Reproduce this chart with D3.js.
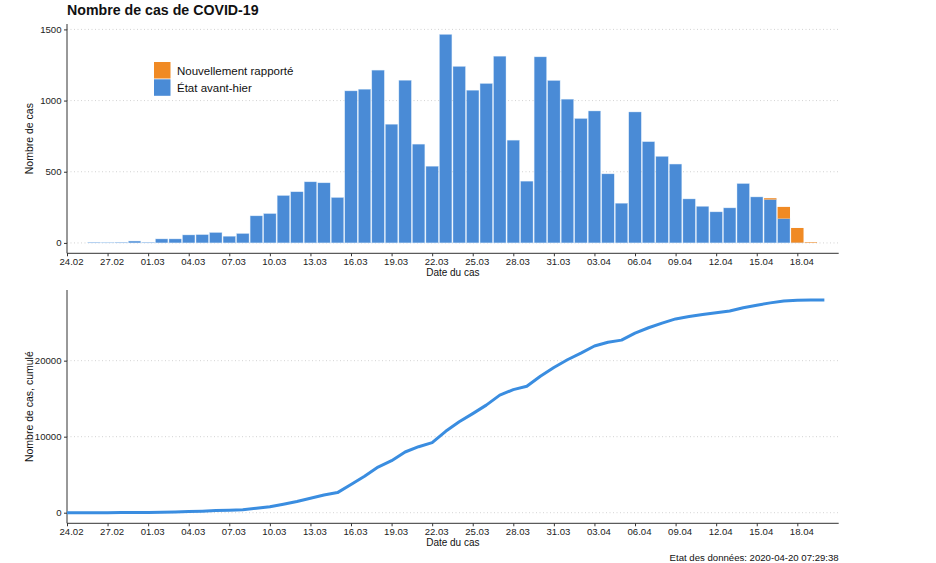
<!DOCTYPE html>
<html><head><meta charset="utf-8">
<script src="https://cdn.jsdelivr.net/npm/d3@7"></script>
<style>
body{margin:0;background:#fff;}
text{font-family:"Liberation Sans",Arial,sans-serif;}
</style></head>
<body><svg id="c" width="936" height="563"></svg>
<script>
// Bar dates (26.02 - 19.04)
const barStart = "2020-02-26";
const barEnd = "2020-04-19";
const blueVals = [5,3,5,13,5,28,28,56,58,73,47,66,190,206,333,359,429,422,319,
  1068,1080,1214,834,1143,694,539,1465,1240,1073,1120,1312,722,434,1307,1141,1010,874,927,485,279,
  920,711,608,554,309,257,218,246,417,323,305,171,2,0];
const orangeVals = [0,0,0,0,0,0,0,0,0,0,0,0,0,0,0,0,0,0,0,
  0,0,0,0,0,0,0,0,0,0,0,0,0,0,0,0,0,0,0,0,0,
  0,0,0,0,0,0,0,0,0,0,9,82,103,4];
// Cumulative (24.02 - 20.04)
const cumStart = "2020-02-24";
const cumVals = [0,0,5,8,13,26,31,59,87,143,201,274,321,387,577,783,1116,1475,1904,2326,2645,
  3713,4793,6007,6841,7984,8678,9217,10710,11955,13030,14150,15465,16190,16630,17950,19100,20120,
  21000,21930,22420,22700,23620,24330,24940,25490,25810,26070,26290,26540,26960,27290,27600,27860,27960,27965,27965];
const xTickLabels = ["24.02","27.02","01.03","04.03","07.03","10.03","13.03","16.03","19.03","22.03",
  "25.03","28.03","31.03","03.04","06.04","09.04","12.04","15.04","18.04"];
const yTicksTop = [0,500,1000,1500];
const yTicksBottom = [0,10000,20000];
const legendLabels = ["Nouvellement rapporté","État avant-hier"];

const parse = d3.utcParse("%Y-%m-%d");
const day = 864e5;
const t0 = parse(cumStart);
const barDates = d3.utcDays(parse(barStart), new Date(parse(barEnd).getTime()+day));
const cumDates = cumVals.map((v,i)=>new Date(t0.getTime()+i*day));
const tickDates = xTickLabels.map((l,i)=>new Date(t0.getTime()+i*3*day));

const BLUE="#4a8bd6", ORANGE="#f08a24", LINE="#3a8de0";
const svg = d3.select("#c");
const L=67, R=838.7;
const x = d3.scaleUtc().domain([t0, new Date(t0.getTime()+57.06*day)]).range([L,R]);
const step = x(new Date(t0.getTime()+day))-x(t0);
const bw = step*0.92;

// title
svg.append("text").attr("x",67).attr("y",15).attr("font-size",14.2).attr("font-weight","bold")
  .attr("fill","#111").text("Nombre de cas de COVID-19");

function panel(y, ticks, bottomY, topY, yTitle){
  const g = svg.append("g");
  g.selectAll(".grid").data(ticks).join("line")
    .attr("x1",L).attr("x2",R).attr("y1",d=>y(d)).attr("y2",d=>y(d))
    .attr("stroke","#c8c8c8").attr("stroke-width",0.8).attr("stroke-dasharray","1,2.5");
  const ya = d3.axisLeft(y).tickValues(ticks).tickSize(3).tickPadding(2.5).tickFormat(d3.format("d"));
  const yg = g.append("g").attr("transform",`translate(${L},0)`).call(ya);
  yg.select(".domain").remove();
  yg.selectAll("text").attr("font-size",9.6).attr("fill","#222").attr("font-family","Liberation Sans, Arial");
  yg.selectAll("line").attr("stroke","#333");
  g.append("line").attr("x1",L).attr("x2",L).attr("y1",topY).attr("y2",bottomY).attr("stroke","#333").attr("stroke-width",1);
  const xa = d3.axisBottom(x).tickValues(tickDates).tickSize(3).tickPadding(2)
    .tickFormat((d,i)=>xTickLabels[i]);
  const xg = g.append("g").attr("transform",`translate(0,${bottomY})`).call(xa);
  xg.select(".domain").remove();
  xg.selectAll("text").attr("font-size",9.6).attr("fill","#222").attr("dx",4).attr("font-family","Liberation Sans, Arial");
  xg.selectAll("line").attr("stroke","#333");
  g.append("line").attr("x1",L).attr("x2",R).attr("y1",bottomY).attr("y2",bottomY).attr("stroke","#333").attr("stroke-width",1);
  g.append("text").attr("x",(L+R)/2).attr("y",bottomY+23).attr("text-anchor","middle")
    .attr("font-size",10).attr("fill","#111").text("Date du cas");
  g.append("text").attr("transform",`translate(32.5,${(topY+bottomY)/2}) rotate(-90)`).attr("text-anchor","middle")
    .attr("font-size",10.5).attr("fill","#111").text(yTitle);
  return g;
}

// Top panel
const yT = d3.scaleLinear().domain([-73,1538]).range([253.3,24]);
const gT = panel(yT, yTicksTop, 253.3, 24, "Nombre de cas");
const bars = gT.append("g");
bars.selectAll(".b").data(barDates).join("rect")
  .attr("x",(d)=>x(d)-bw/2).attr("width",bw)
  .attr("y",(d,i)=>yT(blueVals[i])).attr("height",(d,i)=>yT(0)-yT(blueVals[i]))
  .attr("fill",BLUE).attr("stroke","#cfe4f8").attr("stroke-width",0.4);
bars.selectAll(".o").data(barDates.filter((d,i)=>orangeVals[i]>0)).join("rect")
  .attr("x",(d)=>x(d)-bw/2).attr("width",bw)
  .attr("y",(d)=>{const i=barDates.indexOf(d);return yT(blueVals[i]+orangeVals[i]);})
  .attr("height",(d)=>{const i=barDates.indexOf(d);return yT(blueVals[i])-yT(blueVals[i]+orangeVals[i]);})
  .attr("fill",ORANGE);

// legend
const lg = svg.append("g");
[ORANGE,BLUE].forEach((c,i)=>{
  lg.append("rect").attr("x",154).attr("y",62+i*17.3).attr("width",16.5).attr("height",16.5).attr("fill",c);
  lg.append("text").attr("x",177).attr("y",74.5+i*17.3).attr("font-size",11.5).attr("fill","#111").text(legendLabels[i]);
});

// Bottom panel
const yB = d3.scaleLinear().domain([-1395,29295]).range([523.3,290]);
const gB = panel(yB, yTicksBottom, 523.3, 290, "Nombre de cas, cumulé");
gB.append("path").datum(cumDates)
  .attr("d", d3.line().x(d=>x(d)).y((d,i)=>yB(cumVals[i])))
  .attr("fill","none").attr("stroke",LINE).attr("stroke-width",3).attr("stroke-linejoin","round");

svg.append("text").attr("x",R).attr("y",560.5).attr("text-anchor","end").attr("font-size",9.6)
  .attr("fill","#111").text("Etat des données: 2020-04-20 07:29:38");
</script></body></html>
